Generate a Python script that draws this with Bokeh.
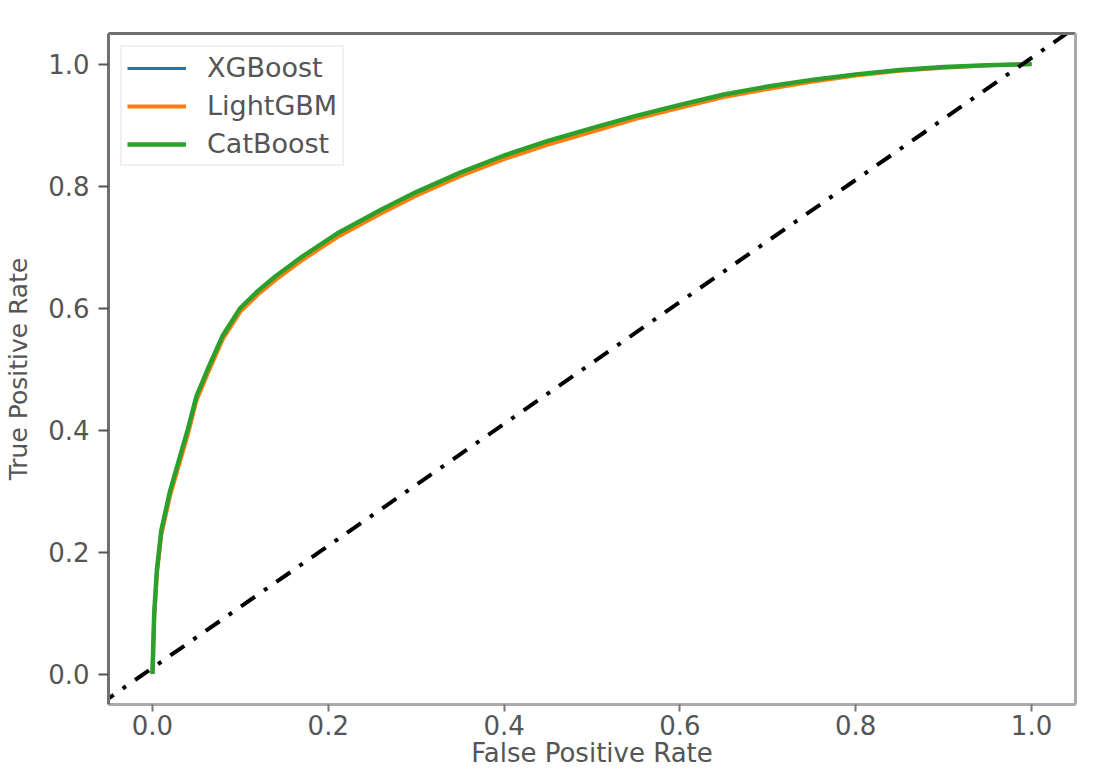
from bokeh.plotting import figure
from bokeh.models import LinearAxis, FixedTicker, NumeralTickFormatter
from bokeh.embed import file_html
from bokeh.resources import INLINE

# ---- data ----
fpr = [0, 0.002, 0.005, 0.01, 0.02, 0.03, 0.04, 0.05, 0.063, 0.08, 0.10, 0.12, 0.14,
       0.17, 0.21, 0.26, 0.30, 0.35, 0.40, 0.45, 0.50, 0.55, 0.60, 0.65, 0.70, 0.75,
       0.80, 0.85, 0.90, 0.95, 1.0]
tpr_xgb = [0, 0.092, 0.163, 0.228, 0.293, 0.344, 0.394, 0.450, 0.497, 0.553, 0.598, 0.626,
           0.650, 0.682, 0.720, 0.759, 0.788, 0.820, 0.848, 0.872, 0.893, 0.914, 0.932,
           0.949, 0.962, 0.973, 0.983, 0.990, 0.995, 0.998, 1.0]
tpr_lgbm = [0, 0.094, 0.164, 0.228, 0.292, 0.342, 0.391, 0.448, 0.493, 0.549, 0.594, 0.622,
            0.646, 0.678, 0.716, 0.755, 0.784, 0.816, 0.844, 0.868, 0.889, 0.910, 0.928,
            0.946, 0.959, 0.971, 0.981, 0.989, 0.994, 0.998, 1.0]
tpr_cat = [0, 0.100, 0.170, 0.235, 0.300, 0.350, 0.400, 0.455, 0.500, 0.555, 0.600, 0.628,
           0.652, 0.684, 0.722, 0.761, 0.790, 0.822, 0.850, 0.874, 0.895, 0.915, 0.933,
           0.950, 0.963, 0.974, 0.983, 0.990, 0.995, 0.998, 1.0]
models = ["XGBoost", "LightGBM", "CatBoost"]
chance_x = [-0.06, 1.12]
chance_y = [-0.05, 1.13]
ticks = [0.0, 0.2, 0.4, 0.6, 0.8, 1.0]

FONT = "DejaVu Sans"
TXT = "#555555"
DARK = "#707070"
LIGHT = "#a9a9a9"

p = figure(width=1096, height=774, x_range=(-0.05, 1.05), y_range=(-0.05, 1.05),
           output_backend="svg", toolbar_location=None,
           min_border_left=108, min_border_right=21, min_border_top=33, min_border_bottom=70,
           background_fill_color="white", border_fill_color="white")
p.outline_line_color = None
p.xgrid.visible = False
p.ygrid.visible = False

colors = ["#1f77b4", "#ff7f0e", "#2ca02c"]
widths = [3.0, 4.0, 4.5]
for name, tpr, c, w in zip(models, [tpr_xgb, tpr_lgbm, tpr_cat], colors, widths):
    p.line(fpr, tpr, line_color=c, line_width=w, legend_label=name, line_join="round")

p.line(chance_x, chance_y, line_color="black", line_width=4, line_dash="17 11 4 11")

def style_axis(ax, color, tick_color):
    ax.axis_line_color = color
    ax.axis_line_width = 3
    ax.major_tick_line_color = tick_color
    ax.major_tick_line_width = 2
    ax.minor_tick_line_color = None
    ax.major_label_text_font = FONT
    ax.major_label_text_font_size = "26px"
    ax.major_label_text_color = TXT
    ax.axis_label_text_font = FONT
    ax.axis_label_text_font_style = "normal"
    ax.axis_label_text_color = TXT

xa = p.xaxis[0]
style_axis(xa, LIGHT, "#777777")
xa.ticker = FixedTicker(ticks=ticks)
xa.formatter = NumeralTickFormatter(format="0.0")
xa.major_tick_out = 7
xa.major_tick_in = 0
xa.major_label_standoff = 3
xa.axis_label = "False Positive Rate"
xa.axis_label_text_font_size = "26px"
xa.axis_label_standoff = 0

ya = p.yaxis[0]
style_axis(ya, DARK, "#555555")
ya.ticker = FixedTicker(ticks=ticks)
ya.formatter = NumeralTickFormatter(format="0.0")
ya.major_tick_out = 10
ya.major_tick_in = 0
ya.major_label_standoff = 9
ya.axis_label = "True Positive Rate"
ya.axis_label_text_font_size = "25px"
ya.axis_label_standoff = 12

for side, color in [("above", DARK), ("right", LIGHT)]:
    ax = LinearAxis(ticker=FixedTicker(ticks=[]), axis_line_color=color, axis_line_width=3,
                    major_tick_out=0, major_tick_in=0, minor_tick_out=0, minor_tick_in=0,
                    major_label_text_font_size="0px", major_label_standoff=0,
                    axis_label_standoff=0)
    p.add_layout(ax, side)

lg = p.legend[0]
lg.location = "top_left"
lg.margin = 12
lg.padding = 5
lg.spacing = 7
lg.glyph_width = 59
lg.label_standoff = 21
lg.label_text_font = FONT
lg.label_text_font_size = "27px"
lg.label_text_color = TXT
lg.border_line_color = "#e2e2e2"
lg.border_line_width = 2
lg.background_fill_color = "white"
lg.background_fill_alpha = 1.0

open("out.html", "w").write(file_html(p, INLINE))
